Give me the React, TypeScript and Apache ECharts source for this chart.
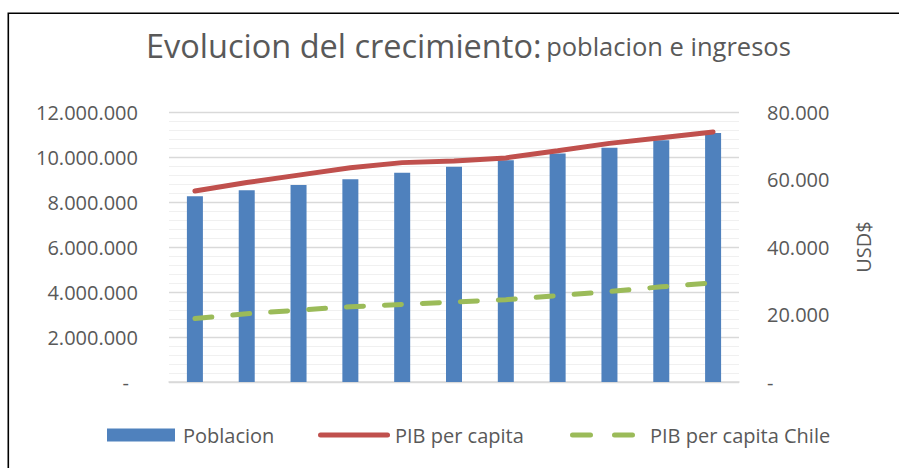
import React, { useEffect, useRef } from "react";
import * as echarts from "echarts";

const categories = ["1", "2", "3", "4", "5", "6", "7", "8", "9", "10", "11"];
const poblacion = [8260000, 8520000, 8760000, 9010000, 9300000, 9570000, 9860000, 10160000, 10410000, 10750000, 11070000];
const pibPerCapita = [56600, 59100, 61300, 63500, 65000, 65500, 66400, 68500, 70700, 72400, 74100];
const pibPerCapitaChile = [18800, 20200, 21300, 22300, 23000, 23700, 24400, 25600, 26800, 28200, 29400];

const TEXT = "#595959";
const FONT = "Open Sans";

const DASH_ICON =
  "path://M2.5,0H20.5A2.5,2.5,0,0,1,20.5,5H2.5A2.5,2.5,0,0,1,2.5,0Z M44.5,0H62.5A2.5,2.5,0,0,1,62.5,5H44.5A2.5,2.5,0,0,1,44.5,0Z";
const LINE_ICON =
  "path://M2.5,0H69.5A2.5,2.5,0,0,1,69.5,5H2.5A2.5,2.5,0,0,1,2.5,0Z";

function fmt(v: number): string {
  return String(Math.round(v)).replace(/\B(?=(\d{3})+(?!\d))/g, ".");
}

export default function App() {
  const ref = useRef<HTMLDivElement>(null);
  useEffect(() => {
    if (!ref.current) return;
    const chart = echarts.init(ref.current, undefined, { renderer: "svg" });
    chart.setOption({
      animation: false,
      backgroundColor: "#ffffff",
      textStyle: { fontFamily: FONT, color: TEXT },
      title: {
        left: 141,
        top: 24,
        text: "{a|Evolucion del crecimiento:} {b|poblacion e ingresos}",
        textStyle: {
          fontWeight: "normal",
          rich: {
            a: { fontSize: 32.5, color: TEXT, fontFamily: FONT, fontWeight: "normal" },
            b: { fontSize: 25.5, color: TEXT, fontFamily: FONT, fontWeight: "normal" },
          },
        },
      },
      graphic: [
        {
          type: "rect",
          shape: { x: 8.3, y: 13.3, width: 1000, height: 1000 },
          style: { fill: "none", stroke: "#000", lineWidth: 1.6 },
          silent: true,
        },
      ],
      grid: { left: 169, right: 160, top: 112, bottom: 86, containLabel: false },
      legend: [
        {
          left: 102, top: 420, icon: "rect", itemWidth: 68, itemHeight: 13,
          data: ["Poblacion"],
          textStyle: { fontSize: 20, color: TEXT, padding: [0, 0, 0, 3] },
        },
        {
          left: 313, top: 420, icon: LINE_ICON, itemWidth: 72, itemHeight: 5,
          symbolKeepAspect: false,
          data: ["PIB per capita"],
          textStyle: { fontSize: 20, color: TEXT },
        },
        {
          left: 565, top: 420, icon: DASH_ICON, itemWidth: 65, itemHeight: 5,
          symbolKeepAspect: false,
          data: ["PIB per capita Chile"],
          textStyle: { fontSize: 20, color: TEXT, padding: [0, 0, 0, 10] },
        },
      ],
      xAxis: {
        type: "category",
        data: categories,
        axisLine: { show: true, lineStyle: { color: "#d9d9d9", width: 1.5 } },
        axisTick: { show: false },
        axisLabel: { show: false },
      },
      yAxis: [
        {
          type: "value",
          min: 0,
          max: 12000000,
          interval: 2000000,
          axisLine: { show: false },
          axisTick: { show: false },
          splitLine: { show: true, lineStyle: { color: "#d9d9d9", width: 1.3 } },
          minorSplitLine: { show: true, lineStyle: { color: "#f0f0f0", width: 1 } },
          minorTick: { show: false, splitNumber: 5 },
          axisLabel: {
            fontSize: 20,
            color: TEXT,
            margin: 31,
            formatter: (v: number) => (v === 0 ? "{d|-}" : fmt(v)),
            rich: { d: { fontSize: 20, color: TEXT, padding: [0, 9, 0, 0] } },
          },
        },
        {
          type: "value",
          min: 0,
          max: 80000,
          interval: 20000,
          position: "right",
          axisLine: { show: false },
          axisTick: { show: false },
          splitLine: { show: false },
          name: "USD$",
          nameLocation: "middle",
          nameRotate: 90,
          nameGap: 114,
          nameTextStyle: { fontSize: 20, color: TEXT },
          axisLabel: {
            fontSize: 20,
            color: TEXT,
            margin: 28,
            formatter: (v: number) => (v === 0 ? "-" : fmt(v)),
          },
        },
      ],
      series: [
        {
          name: "Poblacion",
          type: "bar",
          data: poblacion,
          barWidth: 16,
          itemStyle: { color: "#4f81bd" },
          yAxisIndex: 0,
        },
        {
          name: "PIB per capita",
          type: "line",
          data: pibPerCapita,
          yAxisIndex: 1,
          symbol: "none",
          showSymbol: false,
          lineStyle: { color: "#c0504d", width: 5, cap: "round" },
          itemStyle: { color: "#c0504d" },
        },
        {
          name: "PIB per capita Chile",
          type: "line",
          data: pibPerCapitaChile,
          yAxisIndex: 1,
          symbol: "none",
          showSymbol: false,
          lineStyle: { color: "#9bbb59", width: 5, type: [17, 21], cap: "round" },
          itemStyle: { color: "#9bbb59" },
        },
      ],
    });
    return () => chart.dispose();
  }, []);
  return (
    <div
      ref={ref}
      style={{ position: "fixed", left: 0, top: 0, width: 899, height: 468 }}
    />
  );
}
